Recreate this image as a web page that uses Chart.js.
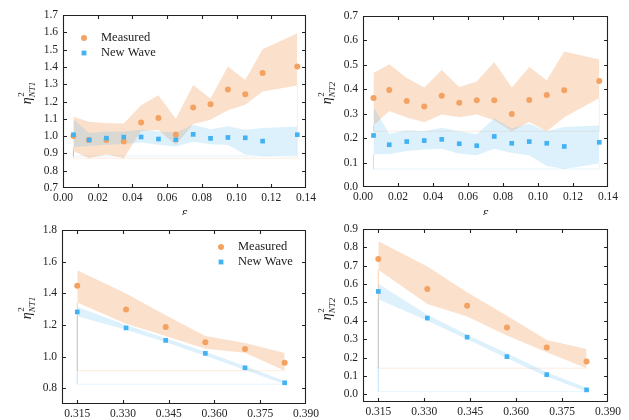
<!DOCTYPE html>
<html>
<head>
<meta charset="utf-8">
<script src="https://cdn.jsdelivr.net/npm/chart.js@4.4.0/dist/chart.umd.min.js"></script>
<style>
  body { margin: 0; background: #fff; }
  #wrap { position: relative; width: 629px; height: 420px; overflow: hidden; background: #fff; }
  #wrap canvas { position: absolute; }
</style>
</head>
<body>
<div id="wrap">
  <canvas id="pNT1eps" width="335" height="215" style="left:0;top:0"></canvas>
  <canvas id="pNT2eps" width="314" height="215" style="left:315px;top:0"></canvas>
  <canvas id="pNT1b" width="335" height="205" style="left:0;top:215px"></canvas>
  <canvas id="pNT2b" width="314" height="205" style="left:315px;top:215px"></canvas>
</div>
<script>
// steepness bins (top row)
const eps = [0.006, 0.015, 0.025, 0.035, 0.045, 0.055, 0.065, 0.075, 0.085, 0.095, 0.105, 0.115, 0.135];

const nt1Meas   = [1.000, 0.978, 0.977, 0.969, 1.079, 1.105, 1.009, 1.165, 1.184, 1.269, 1.242, 1.365, 1.402];
const nt1MeasHi = [1.112, 1.083, 1.074, 1.073, 1.178, 1.236, 1.100, 1.296, 1.217, 1.402, 1.325, 1.502, 1.594];
const nt1MeasLo = [0.912, 0.872, 0.894, 0.872, 1.030, 1.035, 0.948, 1.070, 1.095, 1.150, 1.181, 1.258, 1.292];
const nt1Nw     = [1.008, 0.978, 0.988, 0.994, 0.995, 0.983, 0.979, 1.010, 0.987, 0.992, 0.990, 0.971, 1.008];
const nt1NwHi   = [1.098, 1.018, 1.027, 1.027, 1.037, 1.027, 1.020, 1.065, 1.040, 1.057, 1.036, 1.047, 1.055];
const nt1NwLo   = [0.935, 0.943, 0.950, 0.955, 0.963, 0.950, 0.940, 0.968, 0.953, 0.948, 0.893, 0.885, 0.890];

const nt2Meas   = [0.364, 0.397, 0.352, 0.330, 0.374, 0.345, 0.355, 0.355, 0.299, 0.356, 0.377, 0.396, 0.434];
const nt2MeasHi = [0.467, 0.502, 0.446, 0.407, 0.479, 0.409, 0.432, 0.512, 0.407, 0.491, 0.437, 0.555, 0.522];
const nt2MeasLo = [0.252, 0.311, 0.284, 0.265, 0.297, 0.286, 0.297, 0.273, 0.228, 0.266, 0.228, 0.286, 0.364];
const nt2Nw     = [0.211, 0.173, 0.186, 0.190, 0.195, 0.177, 0.169, 0.207, 0.179, 0.186, 0.179, 0.166, 0.183];
const nt2NwHi   = [0.327, 0.218, 0.232, 0.228, 0.243, 0.228, 0.216, 0.280, 0.239, 0.259, 0.228, 0.246, 0.252];
const nt2NwLo   = [0.134, 0.134, 0.147, 0.153, 0.157, 0.136, 0.130, 0.157, 0.139, 0.130, 0.086, 0.074, 0.096];

// bottom row bins
const xb = [0.315, 0.331, 0.344, 0.357, 0.370, 0.383];

const b1Meas   = [1.447, 1.297, 1.187, 1.090, 1.047, 0.961];
const b1MeasHi = [1.546, 1.398, 1.261, 1.130, 1.085, 1.022];
const b1MeasLo = [1.341, 1.208, 1.130, 1.050, 1.024, 0.910];
const b1Nw     = [1.282, 1.181, 1.102, 1.020, 0.929, 0.834];
const b1NwHi   = [1.314, 1.200, 1.115, 1.030, 0.940, 0.845];
const b1NwLo   = [1.255, 1.170, 1.090, 1.005, 0.915, 0.825];

const b2Meas   = [0.736, 0.573, 0.482, 0.364, 0.255, 0.178];
const b2MeasHi = [0.833, 0.696, 0.556, 0.427, 0.296, 0.247];
const b2MeasLo = [0.678, 0.491, 0.424, 0.320, 0.229, 0.142];
const b2Nw     = [0.560, 0.415, 0.311, 0.205, 0.107, 0.024];
const b2NwHi   = [0.602, 0.433, 0.324, 0.224, 0.120, 0.036];
const b2NwLo   = [0.518, 0.400, 0.300, 0.196, 0.096, 0.015];

// tick labels
const epsTicks = [0, 0.02, 0.04, 0.06, 0.08, 0.10, 0.12, 0.14];
const xbTicks = [0.315, 0.330, 0.345, 0.360, 0.375, 0.390];
const nt1EpsTicks = [0.7, 0.8, 0.9, 1.0, 1.1, 1.2, 1.3, 1.4, 1.5, 1.6, 1.7];
const nt2EpsTicks = [0.0, 0.1, 0.2, 0.3, 0.4, 0.5, 0.6, 0.7];
const nt1bTicks = [0.8, 1.0, 1.2, 1.4, 1.6, 1.8];
const nt2bTicks = [0.0, 0.1, 0.2, 0.3, 0.4, 0.5, 0.6, 0.7, 0.8, 0.9];

const ORANGE = 'rgb(244,162,97)';
const BLUE = 'rgb(66,178,243)';
const ORANGE_FILL = 'rgba(244,162,97,0.33)';
const BLUE_FILL = 'rgba(66,178,243,0.18)';
const SERIF = '"Liberation Serif", "DejaVu Serif", serif';
const INK = '#222';

const pts = (xs, ys) => xs.map((x, i) => ({x: x, y: ys[i]}));

// outline the band sits on, closed down to its lowest edge
function bandEdge(xs, lo) {
  const base = Math.min(...lo);
  const n = xs.length - 1;
  return [{x: xs[0], y: lo[0]}, {x: xs[0], y: base}, {x: xs[n], y: base}, {x: xs[n], y: lo[n]}];
}

function bandSets(xs, hi, lo, fill, edge, order) {
  return [
    { data: pts(xs, hi), borderColor: 'transparent', backgroundColor: fill, fill: '+1', pointRadius: 0, order: order },
    { data: pts(xs, lo), borderColor: 'transparent', fill: false, pointRadius: 0, order: order },
    { data: bandEdge(xs, lo), borderColor: edge, borderWidth: 1, fill: false, pointRadius: 0, order: order + 1 }
  ];
}

function drawEta(ctx, cx, cy, sub) {
  ctx.save();
  ctx.translate(cx, cy);
  ctx.rotate(-Math.PI / 2);
  ctx.fillStyle = INK;
  ctx.textBaseline = 'alphabetic';
  ctx.textAlign = 'left';
  ctx.font = 'italic 14px ' + SERIF;
  const wEta = ctx.measureText('\u03b7').width;
  ctx.font = 'italic 9px ' + SERIF;
  const wSub = ctx.measureText(sub).width;
  const x0 = -(wEta + wSub) / 2;
  ctx.font = 'italic 14px ' + SERIF;
  ctx.fillText('\u03b7', x0, 4);
  ctx.font = '9px ' + SERIF;
  ctx.fillText('2', x0 + wEta + 0.5, -3);
  ctx.font = 'italic 9px ' + SERIF;
  ctx.fillText(sub, x0 + wEta, 8);
  ctx.restore();
}

// box frame with inward ticks on all four sides, plus axis labels and legend
const framePlugin = {
  id: 'frame',
  afterDatasetsDraw(chart, args, opts) {
    const ctx = chart.ctx;
    const a = chart.chartArea;
    const sx = chart.scales.x, sy = chart.scales.y;
    const L = Math.round(a.left) + 0.5, R = Math.round(a.right) - 0.5;
    const T = Math.round(a.top) + 0.5, B = Math.round(a.bottom) - 0.5;
    ctx.save();
    ctx.strokeStyle = INK;
    ctx.lineWidth = 1.1;
    ctx.beginPath();
    ctx.rect(L, T, R - L, B - T);
    sx.ticks.forEach(t => {
      const p = Math.round(sx.getPixelForValue(t.value)) + 0.5;
      if (p <= L + 1 || p >= R - 1) return;
      ctx.moveTo(p, B); ctx.lineTo(p, B - 3.5);
      ctx.moveTo(p, T); ctx.lineTo(p, T + 3.5);
    });
    sy.ticks.forEach(t => {
      const p = Math.round(sy.getPixelForValue(t.value)) + 0.5;
      if (p <= T + 1 || p >= B - 1) return;
      ctx.moveTo(L, p); ctx.lineTo(L + 3.5, p);
      ctx.moveTo(R, p); ctx.lineTo(R - 3.5, p);
    });
    ctx.stroke();

    drawEta(ctx, opts.yLabel[0], opts.yLabel[1], opts.sub);

    if (opts.xLabel) {
      ctx.fillStyle = INK;
      ctx.font = 'italic 14px ' + SERIF;
      ctx.textAlign = 'center';
      ctx.textBaseline = 'middle';
      ctx.fillText('\u03b5', (a.left + a.right) / 2, opts.xLabel);
    }

    if (opts.legend) {
      const lx = a.left + opts.legend[0], ly = a.top + opts.legend[1];
      ctx.fillStyle = ORANGE;
      ctx.beginPath();
      ctx.arc(lx, ly, 3, 0, Math.PI * 2);
      ctx.fill();
      ctx.fillStyle = BLUE;
      ctx.fillRect(lx - 2.4, ly + 15 - 2.4, 4.8, 4.8);
      ctx.fillStyle = INK;
      ctx.font = '12.5px ' + SERIF;
      ctx.textAlign = 'left';
      ctx.textBaseline = 'middle';
      ctx.fillText('Measured', lx + 17, ly);
      ctx.fillText('New Wave', lx + 17, ly + 15);
    }
    ctx.restore();
  }
};

function panel(id, cfg) {
  const tickFont = { family: SERIF, size: 11.5 };
  return new Chart(document.getElementById(id), {
    type: 'line',
    data: {
      datasets: [
        { data: pts(cfg.xs, cfg.nw), showLine: false, pointStyle: 'rect', pointRadius: 3.3,
          backgroundColor: BLUE, borderWidth: 0, order: 1 },
        { data: pts(cfg.xs, cfg.meas), showLine: false, pointStyle: 'circle', pointRadius: 3,
          backgroundColor: ORANGE, borderWidth: 0, order: 2 },
        ...bandSets(cfg.xs, cfg.nwHi, cfg.nwLo, BLUE_FILL, 'rgba(66,178,243,0.13)', 3),
        ...bandSets(cfg.xs, cfg.measHi, cfg.measLo, ORANGE_FILL, 'rgba(244,162,97,0.2)', 6)
      ]
    },
    options: {
      responsive: false,
      animation: false,
      events: [],
      layout: { padding: cfg.pad },
      elements: { line: { tension: 0, borderWidth: 0 } },
      plugins: {
        legend: { display: false },
        tooltip: { enabled: false },
        frame: cfg.frame
      },
      scales: {
        x: {
          type: 'linear',
          min: cfg.xMin, max: cfg.xMax,
          grid: { display: false, drawTicks: false },
          border: { display: false },
          ticks: { font: tickFont, color: INK, padding: 3, autoSkip: false, maxRotation: 0,
                   callback: v => v.toFixed(cfg.xDigits) },
          afterBuildTicks: s => { s.ticks = cfg.xTicks.map(v => ({ value: v })); },
          afterFit: s => { s.height = cfg.xH; s.paddingLeft = 0; s.paddingRight = 0; }
        },
        y: {
          min: cfg.yMin, max: cfg.yMax,
          grid: { display: false, drawTicks: false },
          border: { display: false },
          ticks: { font: tickFont, color: INK, padding: 5, autoSkip: false,
                   callback: v => v.toFixed(1) },
          afterBuildTicks: s => { s.ticks = cfg.yTicks.map(v => ({ value: v })); },
          afterFit: s => { s.width = cfg.yW; s.paddingTop = 0; s.paddingBottom = 0; }
        }
      }
    },
    plugins: [framePlugin]
  });
}

panel('pNT1eps', {
  xs: eps, meas: nt1Meas, measHi: nt1MeasHi, measLo: nt1MeasLo, nw: nt1Nw, nwHi: nt1NwHi, nwLo: nt1NwLo,
  xMin: 0, xMax: 0.14, xTicks: epsTicks, xDigits: 2,
  yMin: 0.7, yMax: 1.7, yTicks: nt1EpsTicks,
  pad: { left: 0, right: 29, top: 15, bottom: 0 }, yW: 63, xH: 27,
  frame: { sub: 'NT1', yLabel: [27, 93], xLabel: 213, legend: [21, 23] }
});

panel('pNT2eps', {
  xs: eps, meas: nt2Meas, measHi: nt2MeasHi, measLo: nt2MeasLo, nw: nt2Nw, nwHi: nt2NwHi, nwLo: nt2NwLo,
  xMin: 0, xMax: 0.14, xTicks: epsTicks, xDigits: 2,
  yMin: 0, yMax: 0.7, yTicks: nt2EpsTicks,
  pad: { left: 0, right: 21, top: 16, bottom: 0 }, yW: 48, xH: 28,
  frame: { sub: 'NT2', yLabel: [12, 93], xLabel: 213 }
});

panel('pNT1b', {
  xs: xb, meas: b1Meas, measHi: b1MeasHi, measLo: b1MeasLo, nw: b1Nw, nwHi: b1NwHi, nwLo: b1NwLo,
  xMin: 0.31, xMax: 0.39, xTicks: xbTicks, xDigits: 3,
  yMin: 0.7, yMax: 1.8, yTicks: nt1bTicks,
  pad: { left: 0, right: 29, top: 15, bottom: 0 }, yW: 62, xH: 16,
  frame: { sub: 'NT1', yLabel: [27, 93], legend: [159, 17] }
});

panel('pNT2b', {
  xs: xb, meas: b2Meas, measHi: b2MeasHi, measLo: b2MeasLo, nw: b2Nw, nwHi: b2NwHi, nwLo: b2NwLo,
  xMin: 0.31, xMax: 0.39, xTicks: xbTicks, xDigits: 3,
  yMin: -0.042, yMax: 0.9, yTicks: nt2bTicks,
  pad: { left: 0, right: 21, top: 14, bottom: 0 }, yW: 48, xH: 18,
  frame: { sub: 'NT2', yLabel: [12, 94] }
});
</script>
</body>
</html>
